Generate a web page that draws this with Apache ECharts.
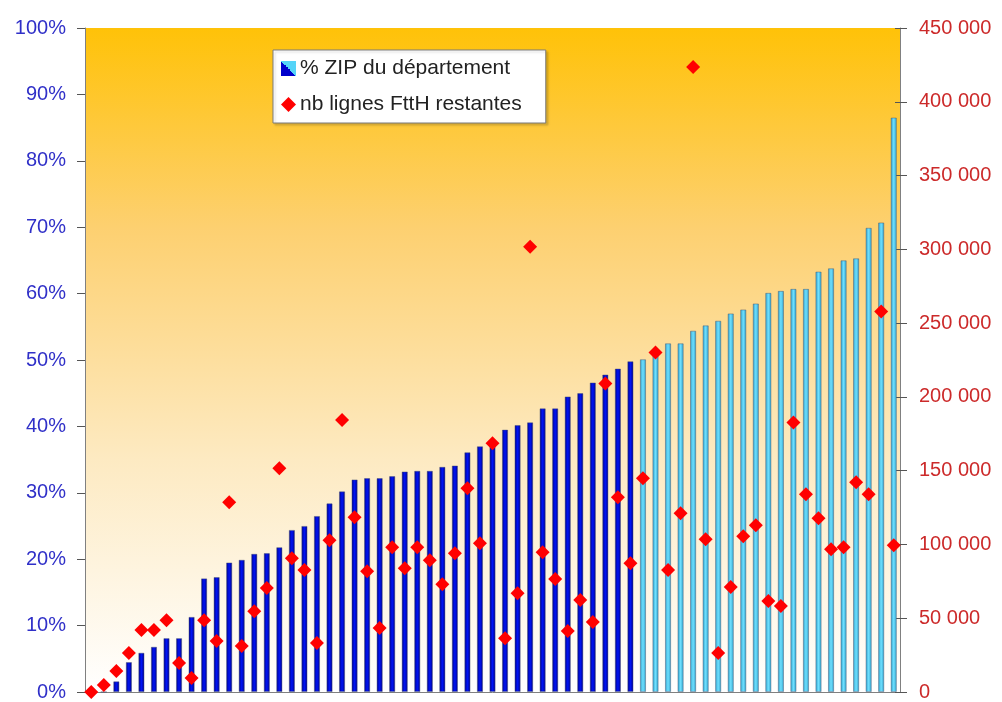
<!DOCTYPE html>
<html>
<head>
<meta charset="utf-8">
<script src="https://cdn.jsdelivr.net/npm/echarts@6/dist/echarts.min.js"></script>
<style>
  html, body { margin: 0; padding: 0; background: #fff; }
  #chart { width: 1002px; height: 702px; }
</style>
</head>
<body>
<div id="chart"></div>
<script>
// % ZIP du département, un point par département (trié)
const zipPct = [
  0, 0, 1.6, 4.5, 5.9, 6.8, 8.1, 8.1, 11.3, 17.1,
  17.3, 19.5, 19.9, 20.8, 20.9, 21.8, 24.4, 25.0, 26.5, 28.4,
  30.2, 32.0, 32.2, 32.2, 32.5, 33.2, 33.3, 33.3, 33.9, 34.1,
  36.1, 37.0, 37.7, 39.5, 40.2, 40.6, 42.7, 42.7, 44.5, 45.0,
  46.6, 47.8, 48.7, 49.8, 50.1, 51.1, 52.5, 52.5, 54.4, 55.2,
  55.9, 57.0, 57.6, 58.5, 60.1, 60.4, 60.7, 60.7, 63.3, 63.8,
  65.0, 65.3, 69.9, 70.7, 86.5
]
// nb lignes FttH restantes
const lignesRestantes = [
  0, 4700, 14200, 26400, 42000, 42000, 48700, 19600, 9500, 48700,
  34500, 128600, 31100, 54800, 70400, 151600, 90700, 82600, 33200, 102900,
  184400, 118400, 81900, 43300, 98100, 83900, 98100, 89300, 73100, 94100,
  138000, 100800, 168500, 36500, 67000, 301800, 94700, 76500, 41300, 62300,
  47400, 209100, 132000, 87300, 144800, 230000, 82600, 121100, 423600, 103500,
  26400, 71100, 105600, 113000, 61600, 58200, 182700, 134000, 117700, 96800,
  98100, 142100, 134000, 257800, 99500
]
// les départements au-delà de 50 % passent en bleu clair
const firstLightIndex = 44
const categories = zipPct.map((v, i) => 'D' + (i + 1))
const pctTicks = { min: 0, max: 100, interval: 10 }
const lignesTicks = { min: 0, max: 450000, interval: 50000 }

const G = echarts.graphic.LinearGradient
const darkBar = new G(0, 0, 1, 0, [
  { offset: 0, color: '#000088' },
  { offset: 0.5, color: '#0014f5' },
  { offset: 1, color: '#000088' }
])
const lightBar = new G(0, 0, 1, 0, [
  { offset: 0, color: '#2e9fc8' },
  { offset: 0.5, color: '#6fe0ff' },
  { offset: 1, color: '#2e9fc8' }
])
const legendBarIcon = new G(0, 1, 1, 0, [
  { offset: 0, color: '#0000cc' },
  { offset: 0.5, color: '#0000cc' },
  { offset: 0.5, color: '#55d4f8' },
  { offset: 1, color: '#55d4f8' }
])

function fmtSpace (v) {
  return String(v).replace(/\B(?=(\d{3})+(?!\d))/g, ' ')
}

const myChart = echarts.init(document.getElementById('chart'))
const option = {
  backgroundColor: '#ffffff',
  animation: false,
  textStyle: { fontFamily: 'Liberation Sans, Arial, sans-serif' },
  grid: {
    left: 85,
    right: 102,
    top: 28,
    bottom: 10,
    show: true,
    borderWidth: 0,
    backgroundColor: new G(0, 0, 0, 1, [
      { offset: 0, color: '#ffc208' },
      { offset: 0.3, color: '#fdd070' },
      { offset: 0.65, color: '#fdeac2' },
      { offset: 1, color: '#ffffff' }
    ])
  },
  legend: {
    orient: 'vertical',
    left: 273,
    top: 50,
    padding: [8, 24, 8, 8],
    itemGap: 15,
    itemWidth: 15,
    itemHeight: 15,
    backgroundColor: '#ffffff',
    borderColor: '#7a7a7a',
    borderWidth: 1,
    shadowColor: 'rgba(0,0,0,0.15)',
    shadowOffsetX: 2,
    shadowOffsetY: 2,
    shadowBlur: 2,
    textStyle: { fontSize: 21, color: '#222', padding: [0, 0, 0, -1] },
    data: [
      { name: '% ZIP du département', icon: 'rect', itemStyle: { color: legendBarIcon, borderWidth: 0 } },
      { name: 'nb lignes FttH restantes', icon: 'diamond', itemStyle: { color: '#ff0000' } }
    ]
  },
  xAxis: {
    type: 'category',
    data: categories,
    axisLine: { show: true, lineStyle: { color: '#808080', width: 1 } },
    axisTick: { show: false },
    axisLabel: { show: false },
    splitLine: { show: false }
  },
  yAxis: [
    {
      type: 'value',
      position: 'left',
      min: pctTicks.min,
      max: pctTicks.max,
      interval: pctTicks.interval,
      axisLine: { show: true, lineStyle: { color: '#808080' } },
      axisTick: { show: true, length: 8, lineStyle: { color: '#555' } },
      axisLabel: { formatter: '{value}%', color: '#3030c8', fontSize: 20, margin: 19 },
      splitLine: { show: false }
    },
    {
      type: 'value',
      position: 'right',
      min: lignesTicks.min,
      max: lignesTicks.max,
      interval: lignesTicks.interval,
      axisLine: { show: true, lineStyle: { color: '#808080' } },
      axisTick: { show: true, length: 7, lineStyle: { color: '#555' } },
      axisLabel: { formatter: fmtSpace, color: '#cc2a2a', fontSize: 20, margin: 19 },
      splitLine: { show: false }
    },
    {
      // ticks intérieurs de l'axe droit
      type: 'value',
      position: 'right',
      min: lignesTicks.min,
      max: lignesTicks.max,
      interval: lignesTicks.interval,
      axisLine: { show: false },
      axisTick: { show: true, inside: true, length: 5, lineStyle: { color: '#555' } },
      axisLabel: { show: false },
      splitLine: { show: false }
    }
  ],
  series: [
    {
      name: '% ZIP du département',
      type: 'bar',
      yAxisIndex: 0,
      barWidth: 6,
      data: zipPct,
      itemStyle: {
        color: function (p) {
          return p.dataIndex < firstLightIndex ? darkBar : lightBar
        },
        borderColor: 'rgba(70,80,110,0.55)',
        borderWidth: 0.8
      }
    },
    {
      name: 'nb lignes FttH restantes',
      type: 'scatter',
      yAxisIndex: 1,
      symbol: 'diamond',
      symbolSize: 14,
      z: 5,
      itemStyle: { color: '#ff0000', opacity: 1 },
      data: lignesRestantes
    }
  ]
}
myChart.setOption(option, true)
</script>
</body>
</html>
